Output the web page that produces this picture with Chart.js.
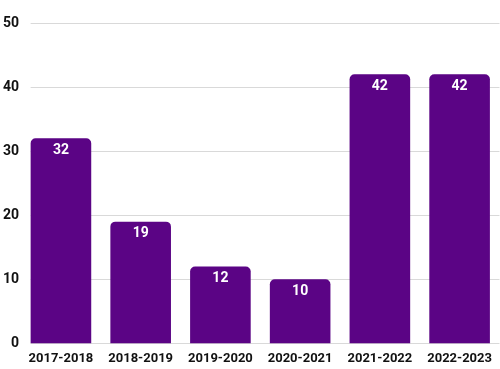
<!DOCTYPE html>
<html>
<head>
<meta charset="utf-8">
<script src="https://cdn.jsdelivr.net/npm/chart.js@4/dist/chart.umd.min.js"></script>
<style>
html,body{margin:0;padding:0;background:#fff;}
#wrap{width:500px;height:369px;position:relative;}
</style>
</head>
<body>
<div id="wrap"><canvas id="c" width="500" height="369"></canvas></div>
<script>
const categories = ["2017-2018","2018-2019","2019-2020","2020-2021","2021-2022","2022-2023"];
const values = [32, 19, 12, 10, 42, 42];
const yTicks = [0, 10, 20, 30, 40, 50];

const FONT = "'Roboto',sans-serif";
const barColor = '#5b0485';

const gridPlugin = {
  id: 'customGrid',
  beforeDatasetsDraw(chart) {
    const ctx = chart.ctx;
    const y = chart.scales.y;
    const meta = chart.getDatasetMeta(0);
    const first = meta.data[0];
    const left = first.x - first.width / 2;
    const right = Math.min(chart.chartArea.right, chart.width);
    ctx.save();
    ctx.strokeStyle = '#d9d9d9';
    ctx.lineWidth = 1;
    y.ticks.forEach(t => {
      const py = Math.round(y.getPixelForValue(t.value)) + 0.5;
      ctx.beginPath();
      ctx.moveTo(left, py);
      ctx.lineTo(right, py);
      ctx.stroke();
    });
    ctx.restore();
  }
};

const labelPlugin = {
  id: 'barLabels',
  afterDatasetsDraw(chart) {
    const ctx = chart.ctx;
    const meta = chart.getDatasetMeta(0);
    ctx.save();
    ctx.fillStyle = '#ffffff';
    ctx.font = "bold 14px " + FONT;
    ctx.textAlign = 'center';
    ctx.textBaseline = 'middle';
    meta.data.forEach((bar, i) => {
      ctx.fillText(String(values[i]), bar.x, bar.y + 12);
    });
    ctx.restore();
  }
};

new Chart(document.getElementById('c'), {
  type: 'bar',
  data: {
    labels: categories,
    datasets: [{
      data: values,
      backgroundColor: barColor,
      borderRadius: 5,
      borderSkipped: 'start',
      barPercentage: 0.76,
      categoryPercentage: 1.0
    }]
  },
  options: {
    responsive: false,
    animation: false,
    devicePixelRatio: 1,
    layout: { padding: { left: 1, right: -3, top: 23, bottom: -6 } },
    plugins: { legend: { display: false }, tooltip: { enabled: false } },
    scales: {
      x: {
        grid: { display: false, drawTicks: false },
        border: { display: false },
        ticks: { color: '#111', font: { family: FONT, weight: 'bold', size: 13 }, padding: 8, maxRotation: 0 }
      },
      y: {
        min: 0, max: 50,
        afterBuildTicks(s) { s.ticks = yTicks.map(v => ({ value: v })); },
        grid: { display: false, drawTicks: false },
        border: { display: false },
        ticks: { color: '#111', font: { family: FONT, weight: 'bold', size: 14 }, padding: 2, stepSize: 10 }
      }
    }
  },
  plugins: [gridPlugin, labelPlugin]
});
</script>
</body>
</html>
